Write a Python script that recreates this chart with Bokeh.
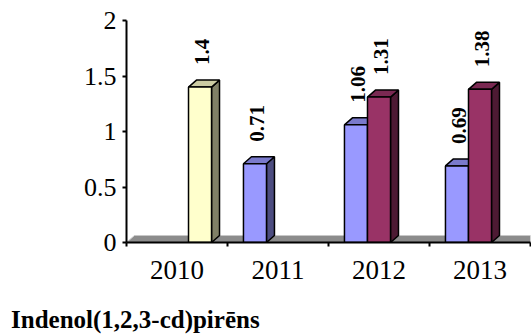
import math
from bokeh.plotting import figure
from bokeh.models import FixedTicker, ColumnDataSource, Div
from bokeh.layouts import column
from bokeh.core.properties import value
from bokeh.embed import file_html
from bokeh.resources import INLINE

# ---- data ----
years = ["2010", "2011", "2012", "2013"]
s1_values = [None, 0.71, 1.06, 0.69]   # blue
s2_values = [None, None, 1.31, 1.38]   # maroon
s3_values = [1.4, None, None, None]    # yellow
y_ticks = [0, 0.5, 1, 1.5, 2]
y_tick_labels = ["0", "0.5", "1", "1.5", "2"]
title_text = "Indenol(1,2,3-cd)pirēns"

front_colors = ["#9999FF", "#993366", "#FFFFCC"]
side_colors = ["#4D4D80", "#4D1A33", "#808066"]
top_colors = ["#7A7ACC", "#7A2952", "#CCCCA3"]

SERIF = "Liberation Serif"

p = figure(width=531, height=300, x_range=(0, 4), y_range=(0, 2),
           output_backend="svg", toolbar_location=None,
           min_border_left=126, min_border_right=1, min_border_top=20,
           min_border_bottom=58)
p.outline_line_color = None
p.xgrid.grid_line_color = None
p.ygrid.grid_line_color = None
p.background_fill_color = "white"

bw = 0.228   # bar width in category units
dx = 0.079   # depth offset x
dy = 0.063   # depth offset y

# floor
p.patch([0, dx, 4, 4], [0, dy, dy, 0], fill_color="#8C8C8C",
        line_color="#C8C8C8", line_width=1)

all_series = [s1_values, s2_values, s3_values]
lab_x, lab_y, lab_t = [], [], []
for si, vals in enumerate(all_series):
    off = (si - 1) * bw
    fx0, fx1, ftop = [], [], []
    side_xs, side_ys, top_xs, top_ys = [], [], [], []
    for ci, v in enumerate(vals):
        if v is None:
            continue
        c = ci + 0.5 + off
        x0, x1 = c - bw / 2, c + bw / 2
        fx0.append(x0); fx1.append(x1); ftop.append(v)
        side_xs.append([x1, x1 + dx, x1 + dx, x1])
        side_ys.append([0, dy, v + dy, v])
        top_xs.append([x0, x0 + dx, x1 + dx, x1])
        top_ys.append([v, v + dy, v + dy, v])
        lab_x.append(c); lab_y.append(v); lab_t.append(str(v))
    p.patches(side_xs, side_ys, fill_color=side_colors[si], line_color="black", line_width=1.5)
    p.patches(top_xs, top_ys, fill_color=top_colors[si], line_color="black", line_width=1.5)
    p.quad(left=fx0, right=fx1, bottom=0, top=ftop, fill_color=front_colors[si],
           line_color="black", line_width=1.5)

src = ColumnDataSource(dict(x=lab_x, y=lab_y, t=lab_t))
p.text(x="x", y="y", text="t", source=src, angle=math.pi / 2,
       text_align="left", text_baseline="middle", x_offset=2, y_offset=-22,
       text_font=value(SERIF), text_font_style="bold", text_font_size="21px",
       text_color="black")

# axes
p.yaxis.ticker = FixedTicker(ticks=y_ticks)
p.yaxis.major_label_overrides = {t: l for t, l in zip(y_ticks, y_tick_labels)}
p.yaxis.major_label_text_font = SERIF
p.yaxis.major_label_text_font_size = "26px"
p.yaxis.major_label_text_color = "black"
p.yaxis.major_tick_in = 0
p.yaxis.major_tick_out = 4
p.yaxis.minor_tick_line_color = None
p.yaxis.axis_line_width = 2
p.yaxis.axis_line_color = "black"
p.yaxis.major_tick_line_width = 2
p.yaxis.major_label_standoff = 6

centers = [i + 0.5 for i in range(len(years))]
p.xaxis.ticker = FixedTicker(ticks=centers, minor_ticks=list(range(len(years) + 1)))
p.xaxis.major_label_overrides = {c: y for c, y in zip(centers, years)}
p.xaxis.major_label_text_font = SERIF
p.xaxis.major_label_text_font_size = "27px"
p.xaxis.major_label_text_color = "black"
p.xaxis.major_tick_in = 0
p.xaxis.major_tick_out = 0
p.xaxis.minor_tick_in = 0
p.xaxis.minor_tick_out = 4
p.xaxis.minor_tick_line_color = "black"
p.xaxis.minor_tick_line_width = 2
p.xaxis.axis_line_width = 2
p.xaxis.axis_line_color = "black"
p.xaxis.major_label_standoff = 14

title_div = Div(text=title_text, width=531, height=34, margin=(0, 0, 0, 0),
                styles={"font-family": SERIF, "font-size": "25px",
                        "font-weight": "bold", "color": "black",
                        "line-height": "25px", "padding-top": "7px",
                        "padding-left": "11px", "white-space": "nowrap"})

layout = column(p, title_div, spacing=0)
open("out.html", "w").write(file_html(layout, INLINE))
